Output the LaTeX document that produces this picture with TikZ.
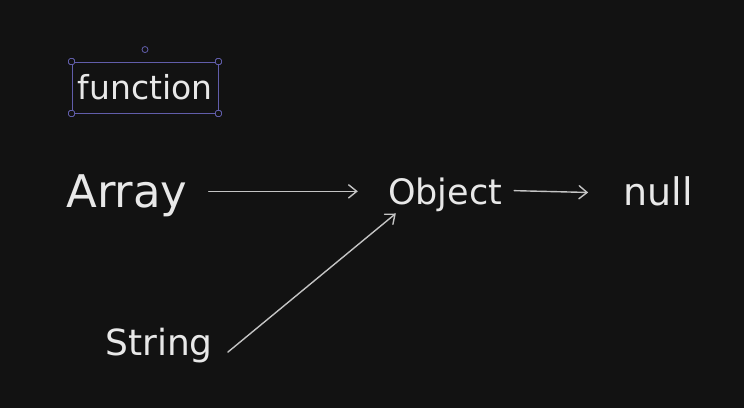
\documentclass[tikz,border=0pt]{standalone}
\usepackage{fontspec}
\setmainfont{DejaVu Sans}
\usetikzlibrary{arrows.meta}
\definecolor{bg}{HTML}{121212}
\definecolor{ink}{HTML}{E8E8E8}
\definecolor{wire}{HTML}{C4C4C4}
\definecolor{sel}{HTML}{615DAA}
\begin{document}
\begin{tikzpicture}[x=1pt,y=-1pt,
  word/.style={text=ink, inner sep=0pt, anchor=base},
  link/.style={draw=wire, line width=1.4pt, line cap=round,
    -{Straight Barb[length=8pt,width=13pt,line cap=round]}},
  selbox/.style={draw=sel, line width=0.9pt, inner sep=0pt,
    minimum width=146pt, minimum height=51pt, text=ink},
  corner/.style={rectangle, rounded corners=1.5pt, draw=sel, fill=bg,
    line width=0.8pt, inner sep=0pt, minimum size=6pt},
  rot/.style={circle, draw=sel, fill=bg, line width=0.8pt,
    inner sep=0pt, minimum size=6pt}]
\fill[bg] (0,0) rectangle (744,408);
\useasboundingbox (0,0) rectangle (744,408);

% selected label with its handles
\node[selbox, font=\fontsize{33}{36}\selectfont] (fn) at (145,87.5) {function};
\node[corner] (h1) at (fn.north west) {};
\node[corner] (h2) at (fn.north east) {};
\node[corner] (h3) at (fn.south west) {};
\node[corner] (h4) at (fn.south east) {};
\node[rot] (hr) at ([yshift=12pt]fn.north) {};

% type names
\node[word, font=\fontsize{45}{48}\selectfont] (arr) at (127,207) {Array};
\node[word, font=\fontsize{35}{38}\selectfont] (obj) at (445,204) {Object};
\node[word, font=\fontsize{38}{40}\selectfont] (nul) at (658,205) {null};
\node[word, font=\fontsize{36}{38}\selectfont] (str) at (159,355) {String};

% prototype links
\draw[link, shorten <=21pt, shorten >=30pt]
  ([yshift=3pt]arr.east |- obj.west) -- ([yshift=3pt]obj.west);
\draw[link, shorten <=12pt, shorten >=35pt]
  ([yshift=4pt]obj.east) -- ([yshift=-2.5pt]nul.west);
\draw[link]
  ([shift={(15pt,-7pt)}]str.east) -- ([shift={(8pt,-2pt)}]obj.south west);
\end{tikzpicture}
\end{document}
